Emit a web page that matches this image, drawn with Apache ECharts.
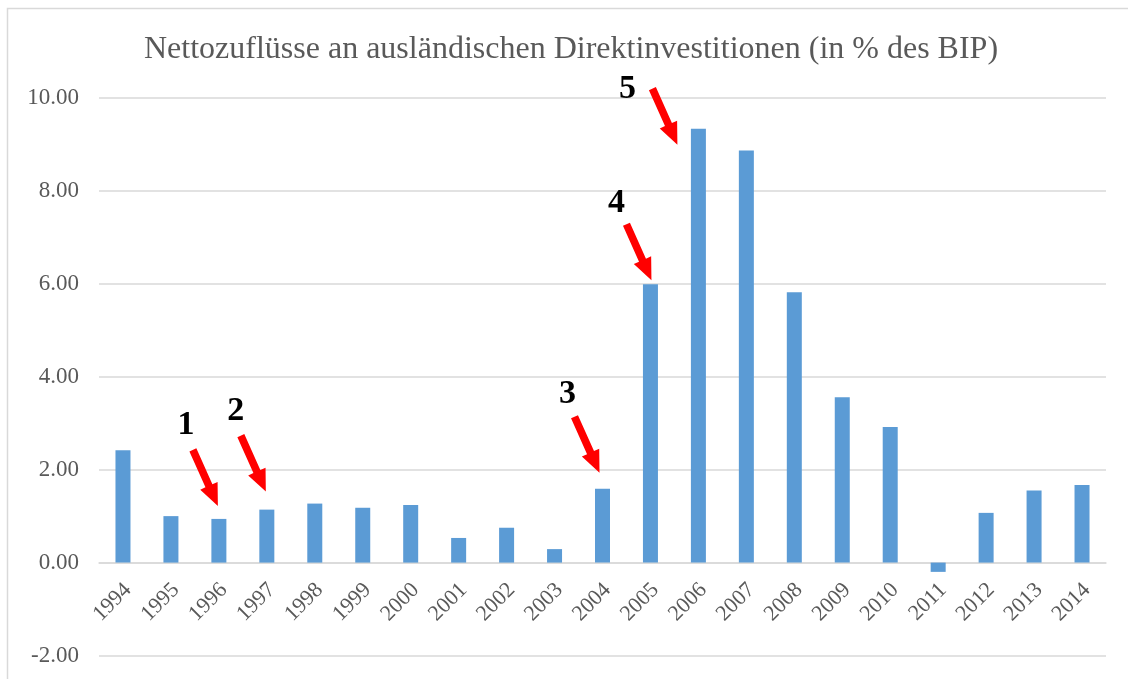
<!DOCTYPE html>
<html>
<head>
<meta charset="utf-8">
<script src="https://cdn.jsdelivr.net/npm/echarts@6/dist/echarts.min.js"></script>
<style>html,body{margin:0;padding:0;background:#fff;}#c{width:1128px;height:679px;}</style>
</head>
<body>
<div id="c"></div>
<script>
const titleText = 'Nettozuflüsse an ausländischen Direktinvestitionen (in % des BIP)';
const years = ['1994','1995','1996','1997','1998','1999','2000','2001','2002','2003','2004','2005','2006','2007','2008','2009','2010','2011','2012','2013','2014'];
const values = [2.42,1.00,0.94,1.14,1.27,1.18,1.24,0.53,0.75,0.29,1.59,5.99,9.34,8.87,5.82,3.56,2.92,-0.20,1.07,1.55,1.67];
const yTicks = [-2,0,2,4,6,8,10];
const annotationLabels = ['1','2','3','4','5'];
const annotationYears = ['1996','1997','2004','2005','2006'];

// layout-only offsets (pixels) for the arrows: tip relative to bar top-centre, label relative to tip
const tipOffsets = [[-1,-13],[-1,-18],[-3,-16],[1,-4],[-21,16]];
const labelOffsets = [[-32,-81],[-30,-80],[-32,-78],[-35,-77],[-50,-55]];

const annData = annotationYears.map((y,i)=>{
  const idx = years.indexOf(y);
  return [idx, values[idx], i];
});
// category labels are anchored on the zero line of the value axis
const catLabelData = years.map((y,i)=>[i, 0]);

const chart = echarts.init(document.getElementById('c'));
const SERIF = '"Liberation Serif","Times New Roman",serif';

function arrowShape(tx, ty, sx, sy){
  const dx = tx - sx, dy = ty - sy;
  const len = Math.sqrt(dx*dx+dy*dy);
  const ux = dx/len, uy = dy/len;
  const nx = -uy, ny = ux;
  const headLen = 22, headW = 9.5, shaftW = 3.8;
  const bx = tx - ux*headLen, by = ty - uy*headLen;
  return [
    [sx + nx*shaftW, sy + ny*shaftW],
    [bx + nx*shaftW, by + ny*shaftW],
    [bx + nx*headW, by + ny*headW],
    [tx, ty],
    [bx - nx*headW, by - ny*headW],
    [bx - nx*shaftW, by - ny*shaftW],
    [sx - nx*shaftW, sy - ny*shaftW]
  ];
}

chart.setOption({
  animation: false,
  backgroundColor: '#ffffff',
  title: {
    text: titleText,
    left: 139,
    top: 29,
    textStyle: { fontFamily: SERIF, fontSize: 32, fontWeight: 'normal', color: '#595959' }
  },
  graphic: [{
    type: 'rect',
    shape: { x: 7.5, y: 8.5, width: 1300, height: 1000 },
    style: { fill: 'none', stroke: '#D9D9D9', lineWidth: 1.5 },
    silent: true, z: -1
  }],
  grid: { left: 99, right: 22, top: 98, bottom: 23.5, containLabel: false, outerBoundsMode: 'none' },
  xAxis: {
    type: 'category',
    data: years,
    axisTick: { show: false },
    axisLine: { show: true, onZero: true, lineStyle: { color: '#D9D9D9', width: 1.5 } },
    axisLabel: { show: false }
  },
  yAxis: {
    type: 'value',
    min: yTicks[0], max: yTicks[yTicks.length-1], interval: 2,
    axisLine: { show: false },
    axisTick: { show: false },
    splitLine: { lineStyle: { color: '#D9D9D9', width: 1.5 } },
    axisLabel: { margin: 20, fontFamily: SERIF, fontSize: 23, color: '#595959', formatter: v => v.toFixed(2) }
  },
  series: [{
    type: 'bar',
    data: values,
    barWidth: 15,
    itemStyle: { color: '#5B9BD5' },
    silent: true
  }, {
    type: 'custom',
    silent: true,
    z: 5,
    data: catLabelData,
    renderItem: function(params, api){
      const p = api.coord([api.value(0), api.value(1)]);
      return {
        type: 'text',
        x: p[0] + 5,
        y: p[1] + 24,
        rotation: Math.PI / 4,
        style: {
          text: years[api.value(0)],
          align: 'right', verticalAlign: 'middle',
          font: '22px ' + SERIF, fill: '#595959'
        }
      };
    }
  }, {
    type: 'custom',
    silent: true,
    z: 10,
    data: annData,
    renderItem: function(params, api){
      const i = api.value(2);
      const p = api.coord([api.value(0), api.value(1)]);
      const tx = p[0] + tipOffsets[i][0], ty = p[1] + tipOffsets[i][1];
      const sx = tx - 25, sy = ty - 56;
      return {
        type: 'group',
        children: [{
          type: 'polygon',
          shape: { points: arrowShape(tx, ty, sx, sy) },
          style: { fill: '#FF0000' }
        }, {
          type: 'text',
          style: {
            text: annotationLabels[i],
            x: tx + labelOffsets[i][0], y: ty + labelOffsets[i][1],
            align: 'center', verticalAlign: 'middle',
            font: 'bold 34px ' + SERIF, fill: '#000000'
          }
        }]
      };
    }
  }]
});
</script>
</body>
</html>
